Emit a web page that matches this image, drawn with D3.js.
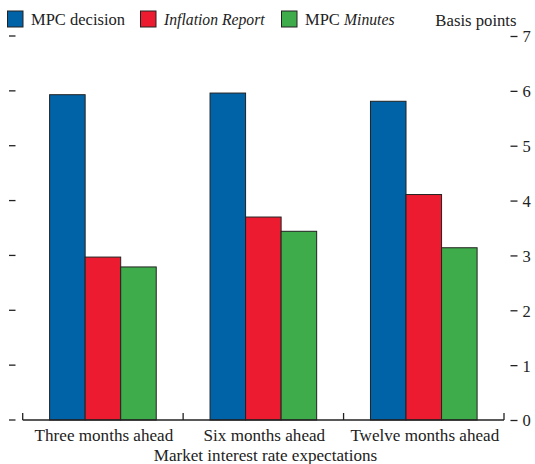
<!DOCTYPE html>
<html><head><meta charset="utf-8">
<script src="https://cdn.jsdelivr.net/npm/d3@7"></script>
<style>body{margin:0;background:#fff}svg{display:block}text{font-family:"Liberation Serif","DejaVu Serif",serif;fill:#222}</style>
</head><body><svg id="c" width="535" height="464"></svg>
<script>
const categories = ["Three months ahead", "Six months ahead", "Twelve months ahead"];
const seriesNames = ["MPC decision", "Inflation Report", "MPC Minutes"];
const mpcDecision = [5.93, 5.96, 5.81];
const inflationReport = [2.97, 3.70, 4.11];
const mpcMinutes = [2.79, 3.44, 3.14];
const colors = ["#0063a8", "#ed1b2f", "#3fac4b"];
const yTicks = [0, 1, 2, 3, 4, 5, 6, 7];
const xTitle = "Market interest rate expectations";
const yTitle = "Basis points";

const series = [mpcDecision, inflationReport, mpcMinutes];
const svg = d3.select("#c");
const x0 = 22.7, x1 = 504, yZero = 420, yTop = 36;
const x = d3.scaleBand().domain(categories).range([x0, x1]).paddingInner(0).paddingOuter(0);
const inner = d3.scaleBand().domain(d3.range(3)).range([26.9, x.bandwidth() - 26.9]);
const y = d3.scaleLinear().domain([0, 7]).range([yZero, yTop]);

// bars
categories.forEach((c, ci) => {
  series.forEach((s, si) => {
    svg.append("rect")
      .attr("x", x(c) + inner(si))
      .attr("y", y(s[ci]))
      .attr("width", inner.bandwidth())
      .attr("height", y(0) - y(s[ci]))
      .attr("fill", colors[si])
      .attr("stroke", "#222").attr("stroke-width", 1);
  });
});

// baseline with group separators
svg.append("line").attr("x1", x0).attr("x2", x1).attr("y1", yZero).attr("y2", yZero)
  .attr("stroke", "#222").attr("stroke-width", 1.3);
const seps = categories.map(c => x(c)).concat([x1]);
seps.forEach(sx => svg.append("line").attr("x1", sx).attr("x2", sx).attr("y1", yZero).attr("y2", yZero - 7)
  .attr("stroke", "#222").attr("stroke-width", 1.3));

// left ticks (dashes)
yTicks.forEach(t => svg.append("line").attr("x1", 9).attr("x2", 15.5).attr("y1", y(t)).attr("y2", y(t))
  .attr("stroke", "#222").attr("stroke-width", 1.3));

// right axis
const rightAxis = d3.axisRight(y).tickValues(yTicks).tickSize(7).tickPadding(5).tickFormat(d3.format("d"));
const rg = svg.append("g").attr("transform", "translate(510.5,0)").call(rightAxis);
rg.select(".domain").remove();
rg.selectAll(".tick line").attr("stroke", "#222").attr("stroke-width", 1.3);
rg.selectAll(".tick text").attr("font-size", 16.5).attr("font-family", "Liberation Serif").attr("fill", "#222").attr("dy", "0.36em");

// x category labels
categories.forEach(c => svg.append("text").attr("x", x(c) + x.bandwidth() / 2 + 1).attr("y", 441)
  .attr("text-anchor", "middle").attr("font-size", 17.1).text(c));
svg.append("text").attr("x", 265.5).attr("y", 461).attr("text-anchor", "middle").attr("font-size", 17.1).text(xTitle);

// y title
svg.append("text").attr("x", 516.5).attr("y", 26).attr("text-anchor", "end").attr("font-size", 16.7).text(yTitle);

// legend
const legX = [7.5, 140.5, 281.5];
seriesNames.forEach((n, i) => {
  svg.append("rect").attr("x", legX[i]).attr("y", 11).attr("width", 15.5).attr("height", 16)
    .attr("fill", colors[i]).attr("stroke", "#222").attr("stroke-width", 1);
  const t = svg.append("text").attr("x", legX[i] + 23.5).attr("y", 24.5).attr("font-size", 16.5);
  if (i === 0) t.text(n);
  else if (i === 1) t.append("tspan").attr("font-size", 15.7).attr("font-style", "italic").text(n);
  else { t.append("tspan").text("MPC "); t.append("tspan").attr("font-size", 15.7).attr("font-style", "italic").text("Minutes"); }
});
</script></body></html>
